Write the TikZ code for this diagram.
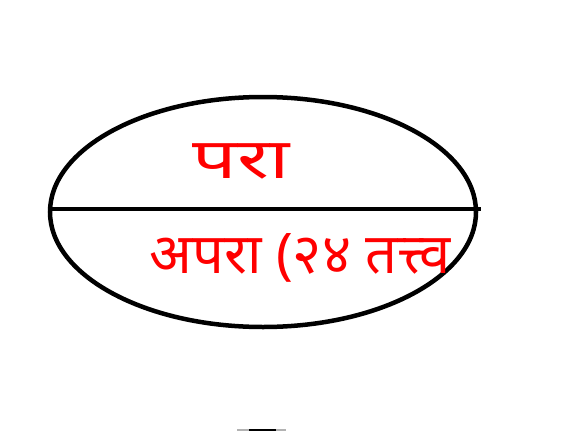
\documentclass[tikz,border=0pt]{standalone}
\usepackage{fontspec}
\newfontfamily\dev[Script=Devanagari]{Noto Sans}
\begin{document}
\begin{tikzpicture}[x=1pt,y=-1pt,
  outline/.style={line width=4.5pt,black},
  label/.style={text=red,font=\dev\fontsize{56}{60}\selectfont,inner sep=0pt}]
\useasboundingbox (0,0) rectangle (585,431);
\draw[outline] (263,212) ellipse [x radius=213,y radius=115];
\coordinate (L) at (50,209);
\coordinate (R) at (481,209);
\draw[outline] (L) -- (R);
\node[label,anchor=center,xscale=1.4] (para) at (241,161) {परा};
\node[label,anchor=center] (apara) at (300,258) {अपरा (२४ तत्त्व};
\fill[gray!60] (237,429) rectangle (286,431);
\fill[black] (249,429) rectangle (276,431);
\end{tikzpicture}
\end{document}
